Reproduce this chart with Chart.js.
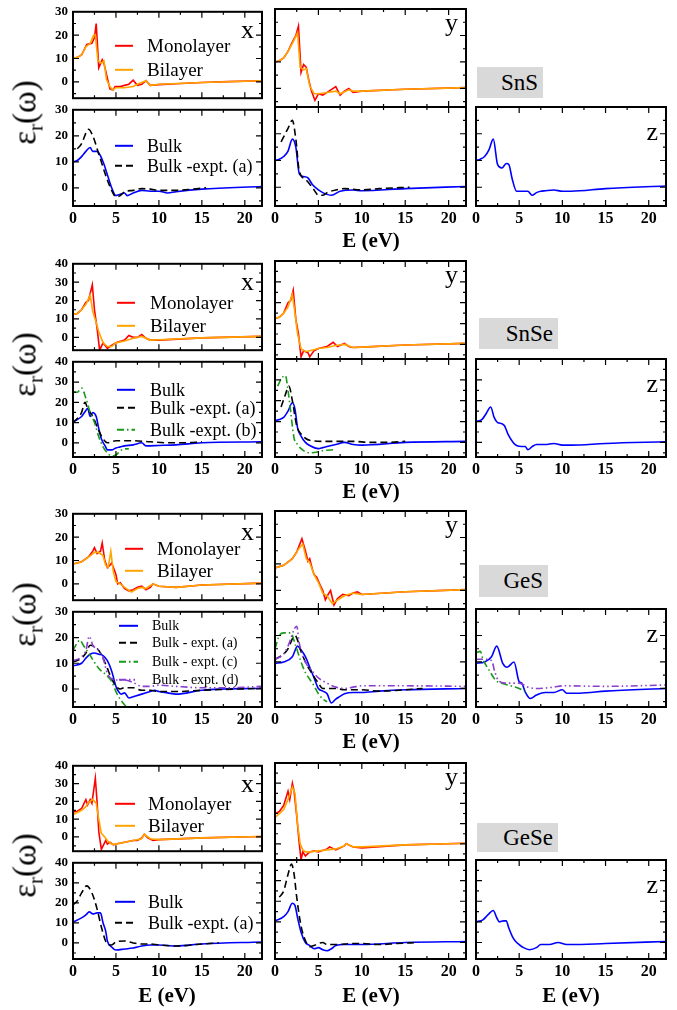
<!DOCTYPE html>
<html>
<head>
<meta charset="utf-8">
<script src="https://cdn.jsdelivr.net/npm/chart.js@4.4.0/dist/chart.umd.min.js"></script>
<style>
  body { margin: 0; background: #fff; width: 677px; height: 1010px; position: relative; overflow: hidden;
         font-family: "Liberation Serif", "Times New Roman", serif; }
  .pane { position: absolute; }
  .pane canvas { display: block; }
  .mat { position: absolute; background: #d9d9d9; font-size: 23px; color: #000; text-align: right;
         box-sizing: border-box; padding-right: 5px; line-height: 31px; }
  .elab { position: absolute; font-weight: bold; font-size: 21px; width: 120px; text-align: center; line-height: 22px; }
  .ylab { position: absolute; font-size: 33px; width: 120px; text-align: center; transform: rotate(-90deg); line-height: 34px; }
  .ylab sub { font-size: 21px; vertical-align: -7px; }
</style>
</head>
<body>
<script>
// ---------- data: [E (eV), eps_r] ----------
const TICK_X = [0, 5, 10, 15, 20];
const MINOR_X = [2.5, 7.5, 12.5, 17.5];
const TICK_Y30 = [0, 10, 20, 30];
const TICK_Y40 = [0, 10, 20, 30, 40];
const MINOR_Y = [-5, 5, 15, 25, 35];

// SnS
const SNS_X_MONO = [[0,10],[0.5,10.5],[1,11.5],[1.6,16],[2.2,16.5],[2.5,19],[2.7,25],[3.0,6],[3.4,9.5],[3.6,8],[4.0,1.6],[4.3,-3],[4.65,-3.5],[4.9,-2],[5.5,-2],[6,-1.5],[6.5,-1],[7,0.7],[7.5,-1.5],[8,-1],[8.5,0.5],[9,-1.5],[10,-1.2],[12,-0.8],[15,-0.3],[18,0.1],[22,0.5]];
const SNS_X_BI = [[0,10],[0.5,10.5],[1,11.5],[1.5,15],[2,16.5],[2.4,20],[2.6,20],[2.9,9],[3.3,8],[3.6,9],[3.9,1],[4.3,-2],[4.6,-3.5],[5,-2.5],[6,-2.5],[7,-2],[7.5,-1],[8.5,0.5],[9,-1.5],[10,-1],[15,-0.3],[22,0.5]];
const SNS_Y_MONO = [[0,10],[0.5,10.5],[1,11.5],[1.5,14],[2,17.5],[2.4,20],[2.7,23.5],[3.0,6],[3.3,9],[3.6,8],[3.9,3],[4.2,-1],[4.6,-4.5],[5,-2],[5.5,-2.5],[6,-1.5],[7,0.7],[7.5,-2.5],[8,-1],[8.5,0],[9,-1.5],[10,-1],[15,-0.3],[22,0.3]];
const SNS_Y_BI = [[0,10],[0.5,10.5],[1,11.5],[1.5,14],[2,17],[2.6,21],[2.9,8],[3.3,7],[3.6,7.5],[4,1],[4.5,-2],[5,-2],[6,-1.5],[7,-1],[7.5,-2],[8.5,-0.5],[9,-1],[10,-1],[15,-0.3],[22,0.3]];
const SNS_X_BULK = [[0,10],[0.5,10.5],[1,12],[1.5,14],[2,15.5],[2.3,14],[2.8,14],[3.5,10],[4,5],[4.5,0],[5,-3],[5.5,-2.5],[6,-2],[6.3,-3],[7,-2],[8,-1],[9,-1.3],[10,-1.3],[11,-2],[12,-1.5],[15,-0.5],[22,0.5]];
const SNS_X_EXPA = [[0.5,15],[1,17],[1.5,21],[1.8,22.5],[2.3,20],[3,13],[4,3],[4.5,-1],[5,-3.5],[5.5,-3],[6,-1.5],[7,-1],[8,-0.3],[9,-0.5],[10,-1],[12,-1],[14,-0.5],[15.5,0]];
const SNS_Y_BULK = [[0,10],[0.5,10.5],[1,11.5],[1.5,13.5],[2,18],[2.4,15],[2.8,5],[3.3,4],[3.8,3.5],[4.3,1],[5,-1],[5.5,-2],[6.5,-3],[7.5,-1.5],[9,-1],[10,-1.3],[15,-0.5],[22,0.3]];
const SNS_Y_EXPA = [[0.7,17],[1.5,22],[2,25],[2.4,18],[2.8,6],[3.5,3],[4.5,-1],[5,-3],[5.5,-3],[6,-2],[7,-1],[8,-0.5],[10,-1],[12,-0.5],[15.5,0]];
const SNS_Z_BULK = [[0,10],[0.5,10.5],[1,11.5],[1.5,14],[2,18],[2.5,8.5],[3,7.2],[3.5,8.9],[3.8,8.5],[4.2,3],[4.7,-1.5],[5.5,-1.5],[6,-1.5],[6.5,-3],[7,-2],[7.5,-1.5],[8,-1.3],[9,-1],[10,-1.5],[11,-1.5],[15,-0.5],[22,0.5]];

// SnSe
const SNSE_X_MONO = [[0,12.5],[0.5,13],[1,15],[1.5,19],[1.8,20],[2.25,28.5],[2.5,15],[2.8,5],[3.1,-7],[3.5,-3],[4,-6],[4.3,-5],[5,-3],[6,-1.5],[6.5,1],[7,0],[7.5,0],[8,1.5],[8.5,-0.5],[9,-1.5],[10,-1.5],[15,-0.3],[22,0.5]];
const SNSE_X_BI = [[0,12.5],[0.5,13],[1,15],[1.5,18],[2,23],[2.3,14],[2.7,8],[3,3],[3.5,-3],[4,-5],[4.5,-5],[5,-3],[6,-2],[7,-0.5],[8,0.5],[9,-1.5],[10,-1.3],[15,-0.3],[22,0.5]];
const SNSE_Y_MONO = [[0,12.5],[0.5,13],[1,15],[1.5,20],[1.8,21],[2.1,26],[2.4,12],[2.7,5],[3,-6],[3.3,-3],[3.8,-4],[4,-6],[4.5,-3],[5,-2],[6,-1],[6.7,1],[7.2,-1],[8,0.5],[8.5,-1],[9,-1.5],[10,-1.3],[15,-0.3],[22,0.5]];
const SNSE_Y_BI = [[0,12.5],[0.5,13],[1,15],[1.5,18],[2,24],[2.3,15],[2.6,5],[3,-2],[3.5,-3.5],[4,-3],[5,-2],[6,-1.5],[7,-0.5],[8,0],[9,-1.5],[10,-1.3],[15,-0.3],[22,0.5]];
const SNSE_X_BULK = [[0,10.5],[0.5,11.5],[1,13],[1.5,16],[1.7,17],[2,13],[2.3,15],[2.7,13],[3,7],[3.3,2],[3.8,-2],[4,-3.5],[4.5,-3.5],[5,-2.5],[5.5,-2],[6,-1.5],[7,-1],[8,0],[8.5,-1.5],[10,-1.3],[12,-1],[15,0],[22,0.5]];
const SNSE_X_EXPA = [[0,10],[0.5,12],[1,15],[1.4,20],[1.7,17],[2.3,13],[3,6],[3.5,2],[4,0],[5,1],[7,1],[9,0.5],[11,0],[13,0],[15,0.5]];
const SNSE_X_EXPB = [[0,25],[0.5,25],[1,27],[1.5,22],[2,15],[2.5,10],[3,3],[3.5,-2],[4,-5],[4.5,-6.5],[5,-6],[5.5,-4],[6,-3],[6.5,-3]];
const SNSE_Y_BULK = [[0,10.5],[0.5,11],[1,12],[1.5,15],[2,19],[2.3,16],[2.6,7],[3,3],[3.5,0],[4,-1.5],[5,-3],[5.5,-2.5],[6,-2],[7,-1],[8,0],[9,-1],[10,-1.3],[15,0],[22,0.5]];
const SNSE_Y_EXPA = [[0.7,17],[1.2,23],[1.6,27],[2,20],[2.5,8],[3,4],[3.5,2],[4,1],[6,0.5],[9,0.5],[11,0],[13,0],[15,0.5]];
const SNSE_Y_EXPB = [[0.3,27],[0.8,31],[1.2,32],[1.5,25],[1.8,15],[2.2,2],[2.6,-1],[3,-3],[3.5,-4.5],[4,-5],[5,-4.5],[5.5,-4],[6.7,-3.5]];
const SNSE_Z_BULK = [[0,10],[0.7,11],[1.2,14],[1.7,17],[2.1,12],[2.5,9.5],[3,9],[3.3,8],[3.7,4],[4.3,0],[4.7,-1.5],[5.3,-2],[5.7,-2],[6,-3.5],[6.5,-2],[7,-1],[8,-1],[9,-0.5],[10,-1.3],[11,-1.3],[15,-0.5],[22,0.3]];

// GeS
const GES_X_MONO = [[0,8.5],[1,9.5],[1.8,11.5],[2.3,14],[2.5,15.5],[2.8,13],[3.2,14],[3.4,17.5],[3.7,10],[4,7],[4.3,8],[4.5,9],[4.8,6],[5,4],[5.2,0],[5.5,0.5],[6,-2],[6.5,-3],[7,-2.5],[7.5,-1.5],[8,-1],[8.5,-2.5],[9,-1.5],[9.3,0],[10,-1],[12,-1.5],[15,-0.5],[22,0.3]];
const GES_X_BI = [[0,8.5],[1,9.5],[2,12],[2.5,13.5],[3,13.5],[3.5,12],[3.8,8],[4.1,7],[4.4,14],[4.7,5],[5,1],[5.5,0],[6,-1.5],[6.8,-3.5],[7.5,-2],[8,-1.5],[8.5,-2],[9.3,0],[10,-1],[12,-1.5],[15,-0.5],[22,0.3]];
const GES_Y_MONO = [[0,8.5],[1,9.5],[2,12],[2.5,14.5],[3.1,19.5],[3.5,15],[3.8,11],[4,12],[4.3,8],[4.5,6],[4.8,5],[5.2,2],[5.5,0],[5.8,-3.5],[6.2,-1],[6.4,0],[6.8,-5.5],[7.2,-3],[7.8,-1.5],[8.5,-2],[9,-1],[9.5,-0.5],[10,-1.5],[15,-0.5],[22,0.3]];
const GES_Y_BI = [[0,8.5],[1,9.5],[2,12],[2.8,16],[3.2,17.5],[3.6,12],[4,10.5],[4.5,6],[5,3],[5.5,-1],[6,-2],[6.6,-5],[7,-4],[8,-2],[9,-1],[10,-1.5],[15,-0.5],[22,0.3]];
const GES_X_BULK = [[0,9],[1,10],[1.5,12],[2,13.5],[2.5,14],[3,13.5],[3.5,13],[4,11],[4.5,7],[5,1],[5.3,-1],[5.6,-2],[6,-1.5],[6.5,-3.5],[7,-3],[8,-2],[9,-1],[9.5,-0.5],[10,-1],[11,-1.5],[12,-2],[15,-0.5],[22,0.3]];
const GES_X_EXPA = [[0,10.5],[1,12],[1.5,14],[2,17],[3,15],[3.5,12],[4,8],[4.5,4],[5,1],[5.5,0],[6,0.5],[7,0.5],[8,-0.5],[9,-0.5],[10,-1],[12,-1],[15,-0.5],[22,0.3]];
const GES_X_EXPC = [[0,15],[0.5,18],[0.8,19],[1.2,17],[2,13],[3,8],[4,5],[4.5,3],[5,-1],[5.5,-4],[6.2,-7]];
const GES_X_EXPD = [[0,11],[1,12.5],[1.5,15],[1.9,20.5],[2.3,17],[3,15],[3.5,12],[4,6],[4.5,4],[5,3.5],[6,3.5],[7,2.5],[8,1],[9,1],[10,1.5],[12,1],[15,0.5],[18,0.5],[22,1]];
const GES_Y_BULK = [[0,9.5],[1,10],[2,12],[2.6,16],[3,14.5],[3.5,12],[4,8],[4.5,4],[5,0],[5.5,-1],[6,-2],[6.5,-5.5],[7,-4],[7.5,-3],[8,-2],[9,-1.5],[10,-1.5],[12,-1],[15,-0.5],[22,0]];
const GES_Y_EXPA = [[0,11],[1,13],[1.5,15],[2.3,20],[3,14],[3.5,10],[4,7],[5,2],[5.5,0],[6,0],[7,0],[8,-0.5],[10,-0.5],[12,-1],[15,-0.5],[17,0]];
const GES_Y_EXPC = [[0,15],[0.5,20],[1,21],[1.8,21],[2.3,17],[3,10],[3.5,6],[4,3.5],[4.5,1],[5,-2],[5.5,-4],[6,-5]];
const GES_Y_EXPD = [[0,11],[1,13],[1.5,16],[2.5,23.5],[2.8,17],[3.5,10],[4.3,6.5],[5,4],[6,2],[7,0.5],[8,0],[9,0.5],[10,1],[15,1],[22,0.8]];
const GES_Z_BULK = [[0,9.5],[1,10],[1.8,12],[2.4,16],[3.1,9.5],[3.6,8],[4.4,10],[5,2.5],[5.3,2],[5.7,-1.3],[6.3,-3.8],[7,-2.5],[8,-1.5],[9,-1.5],[10,-0.5],[10.5,-1.8],[12,-1.8],[15,-1],[22,0]];
const GES_Z_EXPC = [[0,13.5],[0.5,14],[0.8,11],[1.5,7],[2.3,3],[3,2],[4,1],[5,0],[5.8,-1.5]];
const GES_Z_EXPD = [[0,11],[1,11],[1.8,10.5],[2.2,6],[2.6,3],[3.5,2],[5,2],[6,0.5],[7,0],[9,0.5],[10,1],[15,0.8],[22,1.3]];

// GeSe
const GESE_X_MONO = [[0,14],[0.5,14.5],[1,16],[1.2,18],[1.5,21],[1.7,18],[2,21],[2.2,19],[2.6,33],[2.8,20],[3,3],[3.3,-7],[3.6,-4],[3.8,-2],[4,-4],[4.3,-3],[4.7,-4.5],[5,-4],[6,-3],[7,-2],[7.5,-2],[8,-0.5],[8.3,1.5],[8.7,-0.5],[9.3,-2],[10,-1.5],[15,-0.5],[22,0.3]];
const GESE_X_BI = [[0,12.5],[1,15],[1.5,17],[1.8,19.5],[2.3,21],[2.7,19],[3,10],[3.3,2],[3.6,0.5],[4,-2],[4.5,-4],[5,-4],[6,-3],[7,-2],[8,-1],[8.3,1.5],[9,-1],[10,-1.5],[15,-0.5],[22,0.3]];
const GESE_Y_MONO = [[0,15],[0.5,16],[1,19],[1.5,26],[1.7,22],[2,30],[2.2,26],[2.5,14],[2.8,0],[3,-8],[3.2,-4],[3.5,-6],[4,-4],[4.5,-3.5],[5,-4],[6,-2.5],[6.3,-1.5],[7,-3],[8,-1],[8.2,0],[9,-1.5],[10,-2],[15,-0.5],[22,0.3]];
const GESE_Y_BI = [[0,13],[1,17],[1.5,22],[2,28],[2.3,25],[2.6,10],[2.9,0],[3.2,-3],[3.5,-4],[4,-4],[5,-3.5],[6,-3],[7,-2.5],[8,-1],[8.2,0],[9,-1.5],[10,-1.5],[15,-0.5],[22,0.3]];
const GESE_X_BULK = [[0,10.5],[1,12.5],[1.5,14],[1.9,15.5],[2.3,14.5],[2.8,15],[3.2,15],[3.5,10],[3.8,6],[4,1],[4.5,-2],[5,-3.5],[6,-3],[7,-2.5],[8,-1.5],[9,-1],[10,-1],[12,-1.5],[15,-0.5],[22,0.5]];
const GESE_X_EXPA = [[0,19],[0.5,21],[1,25],[1.6,28.5],[2.2,25],[2.8,17],[3.3,8],[3.7,2],[4,-0.5],[4.5,-1],[5,0.5],[6,1],[7,0],[8,-0.5],[9,-0.5],[10,-1],[12,-1.5],[15,-0.5],[17,0]];
const GESE_Y_BULK = [[0,10.5],[1,12.5],[1.5,15],[2,19],[2.3,18],[2.6,12],[3,5],[3.5,0],[4,-1.5],[4.5,-3],[5,-2.5],[5.5,-3.5],[6,-4],[6.5,-3],[7,-1.5],[8,-1],[10,-1],[15,0],[22,0.5]];
const GESE_Y_EXPA = [[0.5,22],[1,25],[1.5,33],[1.9,38],[2.2,33],[2.5,22],[3,8],[3.5,1],[4,-2],[4.5,-1.5],[5,-0.5],[5.5,0],[6,-1],[7,-1],[9,-0.5],[10,-0.5],[12,-1],[14,-0.5],[16.5,0]];
const GESE_Z_BULK = [[0,10],[0.8,11],[1.4,13.5],[2,15.5],[2.4,12],[2.7,10],[3.2,10.5],[3.5,10.5],[3.8,7],[4.2,3],[4.5,1],[5,-1],[5.5,-2.5],[6.2,-3.5],[7,-2.5],[7.5,-1],[8.5,-1],[9.5,0],[10.5,-1],[11,-1],[15,-0.5],[22,0.5]];

// ---------- styles ----------
const SERIF = '"Liberation Serif", "Times New Roman", serif';
const ST = {
  mono: { color: '#ff0000', dash: [], order: 2, smooth: false },
  bi:   { color: '#ffa500', dash: [], order: 1, smooth: false },
  bulk: { color: '#0000ff', dash: [], order: 4, smooth: true },
  a:    { color: '#000000', dash: [7, 4], order: 3, smooth: true },
  b:    { color: '#1a9a1a', dash: [7, 3, 1.5, 3], order: 2, smooth: true },
  d:    { color: '#8a3fcf', dash: [7, 3, 1.5, 3, 1.5, 3], order: 1, smooth: true }
};

const framePlugin = {
  id: 'frame',
  afterDatasetsDraw(chart, args, o) {
    const { ctx, chartArea: a, scales: { x, y } } = chart;
    ctx.save();
    ctx.strokeStyle = '#000';
    ctx.lineWidth = 1.2;
    ctx.setLineDash([]);
    ctx.beginPath();
    const xt = (v, len) => {
      const p = x.getPixelForValue(v);
      ctx.moveTo(p, a.bottom); ctx.lineTo(p, a.bottom - len);
      ctx.moveTo(p, a.top); ctx.lineTo(p, a.top + len);
    };
    const yt = (v, len) => {
      if (v <= y.min || v >= y.max) return;
      const p = y.getPixelForValue(v);
      ctx.moveTo(a.left, p); ctx.lineTo(a.left + len, p);
      ctx.moveTo(a.right, p); ctx.lineTo(a.right - len, p);
    };
    TICK_X.forEach(v => xt(v, 6));
    MINOR_X.forEach(v => xt(v, 3));
    o.majorY.forEach(v => yt(v, 6));
    MINOR_Y.forEach(v => yt(v, 3));
    ctx.stroke();
    ctx.lineWidth = 2;
    ctx.strokeRect(a.left, a.top, a.right - a.left, a.bottom - a.top);

    // direction tag
    ctx.fillStyle = '#000';
    ctx.font = '26px ' + SERIF;
    ctx.textAlign = 'right';
    ctx.textBaseline = 'alphabetic';
    ctx.fillText(o.tag, a.right - 8, a.top + o.tagY);

    // in-panel legend
    if (o.legend) {
      const L = o.legend;
      ctx.font = L.size + 'px ' + SERIF;
      ctx.textAlign = 'left';
      ctx.textBaseline = 'middle';
      L.rows.forEach((ry, i) => {
        const ds = chart.data.datasets[i];
        const yy = a.top + ry;
        ctx.strokeStyle = ds.borderColor;
        ctx.lineWidth = 2;
        ctx.setLineDash(ds.borderDash || []);
        ctx.beginPath();
        ctx.moveTo(a.left + L.x0, yy); ctx.lineTo(a.left + L.x1, yy);
        ctx.stroke();
        ctx.setLineDash([]);
        ctx.fillStyle = '#000';
        ctx.fillText(ds.label, a.left + L.tx, yy + 1);
      });
    }
    ctx.restore();
  }
};

const PAD_L = 44, PAD_T = 10, PAD_R = 6;

function addPanel(box, yr, series, opt) {
  const XH = opt.xLabels ? 28 : 4;
  const w = (box.r - box.l) + PAD_L + PAD_R;
  const h = (box.b - box.t) + PAD_T + XH;
  const wrap = document.createElement('div');
  wrap.className = 'pane';
  wrap.style.left = (box.l - PAD_L) + 'px';
  wrap.style.top = (box.t - PAD_T) + 'px';
  const cv = document.createElement('canvas');
  cv.width = w; cv.height = h;
  cv.style.width = w + 'px'; cv.style.height = h + 'px';
  wrap.appendChild(cv);
  document.body.appendChild(wrap);

  new Chart(cv, {
    type: 'line',
    data: {
      datasets: series.map(s => ({
        label: s.label,
        data: s.pts.map(p => ({ x: p[0], y: p[1] })),
        borderColor: s.st.color,
        borderDash: s.st.dash,
        borderWidth: 1.6,
        pointRadius: 0,
        fill: false,
        order: s.st.order,
        tension: s.st.smooth ? 0.4 : 0,
        cubicInterpolationMode: s.st.smooth ? 'monotone' : 'default'
      }))
    },
    options: {
      responsive: false,
      animation: false,
      devicePixelRatio: 1,
      layout: { padding: { top: PAD_T, right: PAD_R, left: 0, bottom: 0 } },
      plugins: {
        legend: { display: false },
        tooltip: { enabled: false },
        frame: { tag: opt.tag, tagY: opt.tagY || 26, legend: opt.legend, majorY: yr.major }
      },
      scales: {
        x: {
          type: 'linear', min: 0, max: 22,
          afterFit: s => { s.height = XH; },
          afterBuildTicks: s => { s.ticks = TICK_X.map(v => ({ value: v })); },
          grid: { display: false, drawTicks: false },
          border: { display: false },
          ticks: { display: opt.xLabels, color: '#000', padding: 3, maxRotation: 0, autoSkip: false,
                   font: { family: SERIF, size: 16, weight: 'bold' } }
        },
        y: {
          type: 'linear', min: yr.min, max: yr.max,
          afterFit: s => { s.width = PAD_L; },
          afterBuildTicks: s => { s.ticks = yr.major.map(v => ({ value: v })); },
          grid: { display: false, drawTicks: false },
          border: { display: false },
          ticks: { display: opt.yLabels, color: '#000', padding: 5, autoSkip: false,
                   font: { family: SERIF, size: 13, weight: 'bold' } }
        }
      }
    },
    plugins: [framePlugin]
  });
}

// ---------- layout ----------
const COLX = { l: 73, r: 262 }, COLY = { l: 275, r: 466 }, COLZ = { l: 476, r: 666 };

const BLOCKS = [
  { name: 'SnS', t: 9, m: 107, b: 206, min: -7, max: 30, major: TICK_Y30,
    top: [[SNS_X_MONO, SNS_X_BI], [SNS_Y_MONO, SNS_Y_BI]],
    bot: [[['Bulk', SNS_X_BULK, 'bulk'], ['Bulk -expt. (a)', SNS_X_EXPA, 'a']],
          [['Bulk', SNS_Y_BULK, 'bulk'], ['Bulk -expt. (a)', SNS_Y_EXPA, 'a']],
          [['Bulk', SNS_Z_BULK, 'bulk']]],
    legTop: { x0: 42, x1: 60, tx: 74, rows: [34, 58], size: 19 },
    legBot: { x0: 42, x1: 60, tx: 74, rows: [36, 56], size: 18 },
    box: { l: 477, t: 67, w: 66, h: 31 }, eLab: [[371, 240]] },
  { name: 'SnSe', t: 261, m: 359, b: 457, min: -7, max: 40, major: TICK_Y40,
    top: [[SNSE_X_MONO, SNSE_X_BI], [SNSE_Y_MONO, SNSE_Y_BI]],
    bot: [[['Bulk', SNSE_X_BULK, 'bulk'], ['Bulk -expt. (a)', SNSE_X_EXPA, 'a'], ['Bulk -expt. (b)', SNSE_X_EXPB, 'b']],
          [['Bulk', SNSE_Y_BULK, 'bulk'], ['Bulk -expt. (a)', SNSE_Y_EXPA, 'a'], ['Bulk -expt. (b)', SNSE_Y_EXPB, 'b']],
          [['Bulk', SNSE_Z_BULK, 'bulk']]],
    legTop: { x0: 44, x1: 62, tx: 77, rows: [39, 62], size: 19 },
    legBot: { x0: 44, x1: 62, tx: 77, rows: [28, 46, 68], size: 18 },
    box: { l: 479, t: 318, w: 79, h: 31 }, eLab: [[371, 491]] },
  { name: 'GeS', t: 511, m: 609, b: 707, min: -7, max: 30, major: TICK_Y30,
    top: [[GES_X_MONO, GES_X_BI], [GES_Y_MONO, GES_Y_BI]],
    bot: [[['Bulk', GES_X_BULK, 'bulk'], ['Bulk - expt. (a)', GES_X_EXPA, 'a'], ['Bulk - expt. (c)', GES_X_EXPC, 'b'], ['Bulk - expt. (d)', GES_X_EXPD, 'd']],
          [['Bulk', GES_Y_BULK, 'bulk'], ['Bulk - expt. (a)', GES_Y_EXPA, 'a'], ['Bulk - expt. (c)', GES_Y_EXPC, 'b'], ['Bulk - expt. (d)', GES_Y_EXPD, 'd']],
          [['Bulk', GES_Z_BULK, 'bulk'], ['Bulk - expt. (c)', GES_Z_EXPC, 'b'], ['Bulk - expt. (d)', GES_Z_EXPD, 'd']]],
    legTop: { x0: 52, x1: 70, tx: 84, rows: [35, 57], size: 19 },
    legBot: { x0: 46, x1: 65, tx: 79, rows: [14, 31, 50, 68], size: 14 },
    box: { l: 479, t: 565, w: 69, h: 32 }, eLab: [[371, 741]] },
  { name: 'GeSe', t: 763, m: 860, b: 959, min: -8, max: 40, major: TICK_Y40,
    top: [[GESE_X_MONO, GESE_X_BI], [GESE_Y_MONO, GESE_Y_BI]],
    bot: [[['Bulk', GESE_X_BULK, 'bulk'], ['Bulk -expt. (a)', GESE_X_EXPA, 'a']],
          [['Bulk', GESE_Y_BULK, 'bulk'], ['Bulk -expt. (a)', GESE_Y_EXPA, 'a']],
          [['Bulk', GESE_Z_BULK, 'bulk']]],
    legTop: { x0: 42, x1: 62, tx: 75, rows: [38, 60], size: 19 },
    legBot: { x0: 42, x1: 62, tx: 75, rows: [39, 60], size: 18 },
    box: { l: 477, t: 823, w: 81, h: 29 }, eLab: [[167, 995], [371, 995], [571, 995]] }
];

BLOCKS.forEach(B => {
  const yr = { min: B.min, max: B.max, major: B.major };
  const cols = [COLX, COLY, COLZ];
  const tags = ['x', 'y', 'z'];
  // monolayer / bilayer row
  B.top.forEach((pair, i) => {
    addPanel({ l: cols[i].l, r: cols[i].r, t: B.t, b: B.m }, yr,
      [{ label: 'Monolayer', pts: pair[0], st: ST.mono }, { label: 'Bilayer', pts: pair[1], st: ST.bi }],
      { xLabels: false, yLabels: i === 0, tag: tags[i], tagY: i === 0 ? 26 : 22, legend: i === 0 ? B.legTop : null });
  });
  // bulk row
  B.bot.forEach((list, i) => {
    addPanel({ l: cols[i].l, r: cols[i].r, t: B.m, b: B.b }, yr,
      list.map(s => ({ label: s[0], pts: s[1], st: ST[s[2]] })),
      { xLabels: true, yLabels: i === 0, tag: i === 2 ? 'z' : '', tagY: 33, legend: i === 0 ? B.legBot : null });
  });
  // material label
  const m = document.createElement('div');
  m.className = 'mat';
  m.style.left = B.box.l + 'px'; m.style.top = B.box.t + 'px';
  m.style.width = B.box.w + 'px'; m.style.height = B.box.h + 'px';
  m.style.lineHeight = B.box.h + 'px';
  m.textContent = B.name;
  document.body.appendChild(m);
  // axis titles
  B.eLab.forEach(p => {
    const e = document.createElement('div');
    e.className = 'elab';
    e.style.left = (p[0] - 60) + 'px'; e.style.top = (p[1] - 11) + 'px';
    e.textContent = 'E (eV)';
    document.body.appendChild(e);
  });
  const yl = document.createElement('div');
  yl.className = 'ylab';
  yl.style.left = (30 - 60) + 'px'; yl.style.top = (B.m - 17) + 'px';
  yl.innerHTML = 'ε<sub>r</sub>(ω)';
  document.body.appendChild(yl);
});
</script>
</body>
</html>
